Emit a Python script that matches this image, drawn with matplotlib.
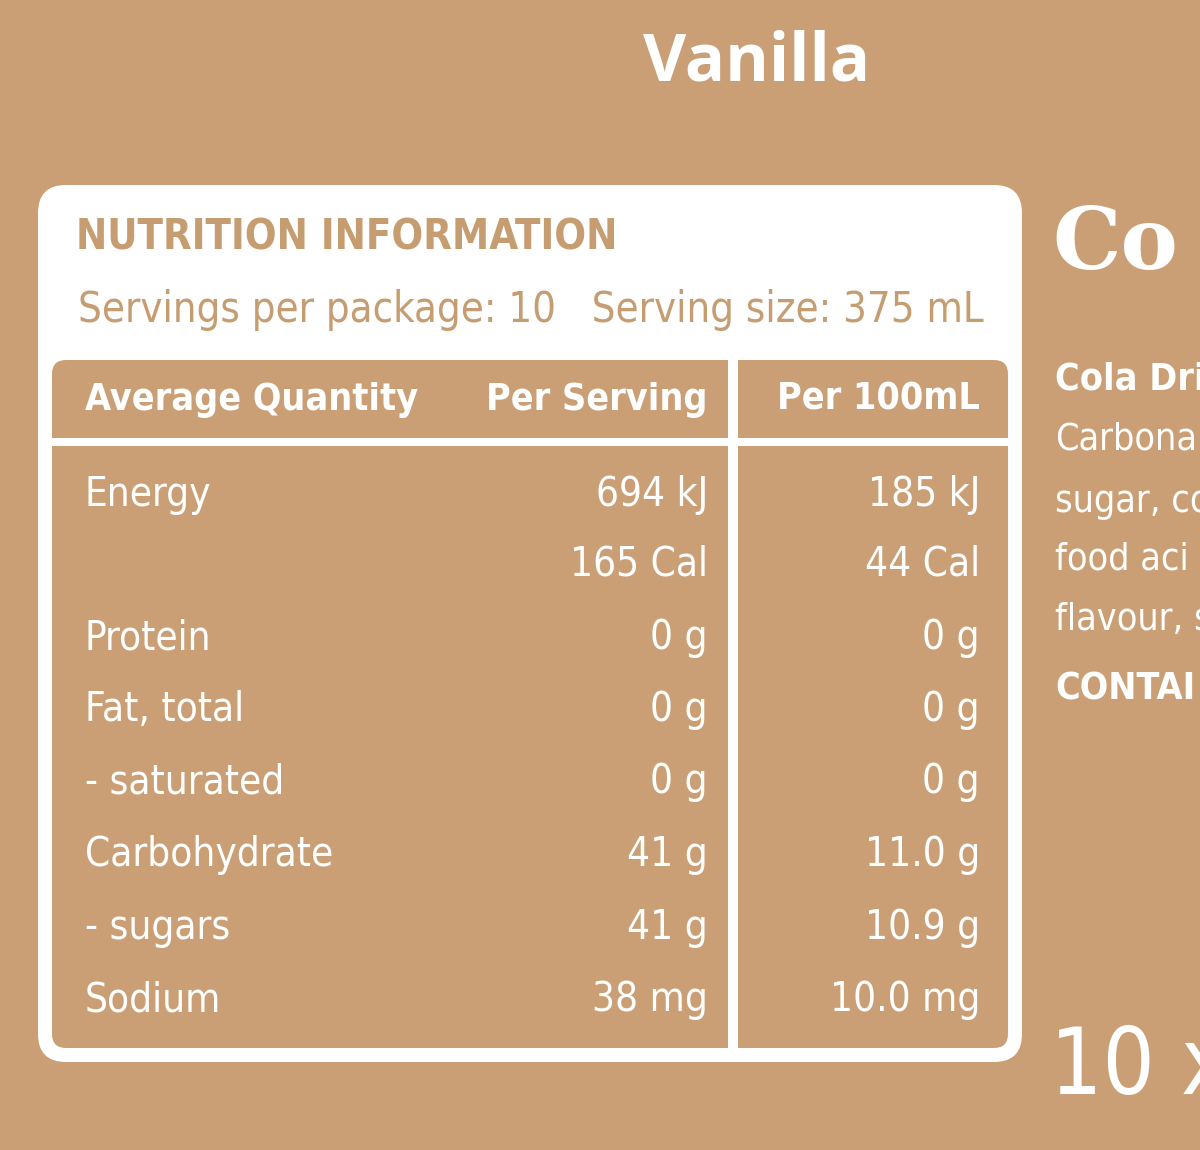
import matplotlib
matplotlib.use("Agg")
import matplotlib.pyplot as plt
from matplotlib.patches import FancyBboxPatch, Rectangle

BG = "#CB9F75"
TXT = "#C69C71"
W = "white"

title = "NUTRITION INFORMATION"
servings = "Servings per package: 10   Serving size: 375 mL"
headers = ["Average Quantity", "Per Serving", "Per 100mL"]
nutrients = ["Energy", "", "Protein", "Fat, total", "- saturated", "Carbohydrate", "- sugars", "Sodium"]
per_serving = ["694 kJ", "165 Cal", "0 g", "0 g", "0 g", "41 g", "41 g", "38 mg"]
per_100ml = ["185 kJ", "44 Cal", "0 g", "0 g", "0 g", "11.0 g", "10.9 g", "10.0 mg"]
side_lines = ["Cola Dri", "Carbona", "sugar, co", "food aci", "flavour, s", "CONTAI"]

fig = plt.figure(figsize=(12, 11.5), dpi=100)
fig.patch.set_facecolor(BG)
ax = fig.add_axes([0, 0, 1, 1])
ax.set_xlim(0, 1200); ax.set_ylim(1150, 0); ax.axis("off")
ax.set_facecolor(BG)

FAM = "DejaVu Sans"
ST = "condensed"

ax.text(757, 63, "Vanilla", color=W, fontsize=48, fontweight="bold", ha="center", va="center", family="Open Sans")

ax.add_patch(FancyBboxPatch((52, 199), 956, 849, boxstyle="round,pad=14,rounding_size=28", fc=W, ec="none"))
ax.add_patch(FancyBboxPatch((52, 360), 956, 688, boxstyle="round,pad=0,rounding_size=14", fc=BG, ec="none"))
ax.add_patch(Rectangle((52, 438), 956, 8, fc=W, ec="none"))
ax.add_patch(Rectangle((728, 360), 10, 688, fc=W, ec="none"))

ax.text(76, 238, title, color=TXT, fontsize=30, fontweight="bold", va="center", family=FAM, stretch=ST)
ax.text(78, 310, servings, color=TXT, fontsize=30, va="center", family=FAM, stretch=ST)

ax.text(85, 400, headers[0], color=W, fontsize=27, fontweight="bold", va="center", family=FAM, stretch=ST)
ax.text(708, 400, headers[1], color=W, fontsize=27, fontweight="bold", va="center", ha="right", family=FAM, stretch=ST)
ax.text(980, 400, headers[2], color=W, fontsize=27, fontweight="bold", va="center", ha="right", family=FAM, stretch=ST)

ys = [495, 565, 638, 710, 782, 855, 928, 1000]
for y, n, a, b in zip(ys, nutrients, per_serving, per_100ml):
    ax.text(85, y, n, color=W, fontsize=29, va="center", family=FAM, stretch=ST)
    ax.text(708, y, a, color=W, fontsize=29, va="center", ha="right", family=FAM, stretch=ST)
    ax.text(980, y, b, color=W, fontsize=29, va="center", ha="right", family=FAM, stretch=ST)

ax.text(1052, 245, "Co", color=W, fontsize=62, fontweight="bold", va="center", family="DejaVu Serif")
sy = [380, 440, 502, 560, 620, 690]
for i, (y, s) in enumerate(zip(sy, side_lines)):
    ax.text(1055, y, s, color=W, fontsize=27, va="center", family=FAM, stretch=ST,
            fontweight="bold" if i in (0, 5) else "normal")
ax.text(1050, 1068, "10 x", color=W, fontsize=66, va="center", family=FAM, stretch=ST)

fig.savefig("out.png", dpi=100, facecolor=BG)
